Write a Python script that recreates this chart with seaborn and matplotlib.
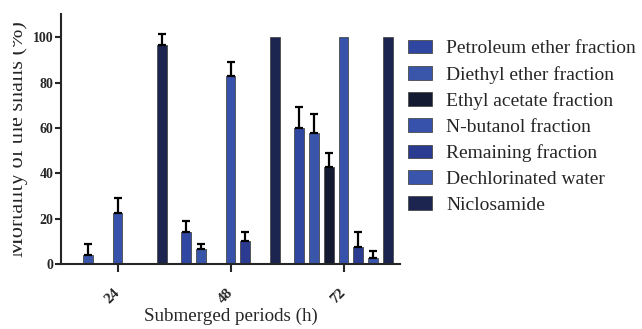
import pandas as pd
import matplotlib
matplotlib.use("Agg")
import matplotlib.pyplot as plt
import seaborn as sns
from matplotlib.patches import Rectangle
from matplotlib.transforms import ScaledTranslation

periods = ["24", "48", "72"]
fractions = ["Petroleum ether fraction", "Diethyl ether fraction", "Ethyl acetate fraction",
             "N-butanol fraction", "Remaining fraction", "Dechlorinated water", "Niclosamide"]
# mortality (%) per fraction, for 24 h / 48 h / 72 h
petroleum = [0, 14.0, 60.1]
diethyl = [3.8, 6.5, 57.8]
ethyl = [0, 0, 42.6]
butanol = [22.5, 82.8, 100]
remaining = [0, 10.3, 7.5]
water = [0, 0, 2.6]
niclosamide = [96.5, 100, 100]
# upper error (SD)
petroleum_err = [0, 4.8, 9.3]
diethyl_err = [5.0, 2.3, 8.5]
ethyl_err = [0, 0, 6.4]
butanol_err = [6.6, 6.5, 0]
remaining_err = [0, 4.0, 6.6]
water_err = [0, 0, 3.0]
niclosamide_err = [4.8, 0, 0]

colors = ["#2f47a0", "#3a56ab", "#141a31", "#3652aa", "#2b3b92", "#3955ac", "#1c2550"]

values = [petroleum, diethyl, ethyl, butanol, remaining, water, niclosamide]
errors = [petroleum_err, diethyl_err, ethyl_err, butanol_err, remaining_err, water_err, niclosamide_err]

rows = []
for f, vals in zip(fractions, values):
    for p, v in zip(periods, vals):
        rows.append({"period": p, "fraction": f, "mortality": v})
df = pd.DataFrame(rows)

sns.set_style("ticks")
plt.rcParams["font.family"] = ["Liberation Serif", "DejaVu Serif"]

fig = plt.figure(figsize=(6.42, 3.29), dpi=100)
ax = fig.add_axes([61 / 642, 65 / 329, 339 / 642, 250 / 329])

sns.barplot(data=df, x="period", y="mortality", hue="fraction", order=periods,
            hue_order=fractions, palette=colors, saturation=1, width=0.91, gap=0.32,
            errorbar=None, edgecolor="#4a4a4a", linewidth=0.6, ax=ax)

# upward-only error bars on top of each bar
for cont, errs in zip(ax.containers, errors):
    for patch, e in zip(cont.patches, errs):
        if e > 0:
            xc = patch.get_x() + patch.get_width() / 2
            ax.errorbar(xc, patch.get_height(), yerr=[[0], [e]], fmt="none",
                        ecolor="black", elinewidth=1.6, capsize=2.8, capthick=1.6, zorder=3)

ax.set_xlim(-0.5, len(periods) - 0.5)
ax.set_ylim(0, 110.3)
ax.set_yticks([0, 20, 40, 60, 80, 100])
sns.despine(ax=ax)
for s in ["left", "bottom"]:
    ax.spines[s].set_linewidth(1.5)
ax.tick_params(axis="y", length=4.3, width=1.5, pad=1, labelsize=10)
ax.tick_params(axis="x", length=5.8, width=1.5, pad=10, labelsize=11)
for lab in ax.get_yticklabels():
    lab.set_fontweight("bold")
shift = ScaledTranslation(5 / 100, 0, fig.dpi_scale_trans)
for lab in ax.get_xticklabels():
    lab.set_fontweight("bold")
    lab.set_rotation(45)
    lab.set_ha("right")
    lab.set_transform(lab.get_transform() + shift)

ax.set_xlabel("Submerged periods (h)", fontsize=13.7, labelpad=1)
ax.set_ylabel("Mortality of the snails (%)", fontsize=16)
ax.yaxis.set_label_coords(-0.097, 0.5)
# the label is cut on its upper side in the original
fig.add_artist(Rectangle((0, 0), 13 / 642, 1, transform=fig.transFigure,
                         facecolor="white", edgecolor="none", zorder=10))

ax.legend(loc="upper left", bbox_to_anchor=(408 / 642, 1 - 40 / 329),
          bbox_transform=fig.transFigure, frameon=False, fontsize=14,
          handlelength=1.25, handleheight=0.68, handletextpad=0.7,
          labelspacing=0.43, borderpad=0, borderaxespad=0)

fig.savefig("out.png", dpi=100)
